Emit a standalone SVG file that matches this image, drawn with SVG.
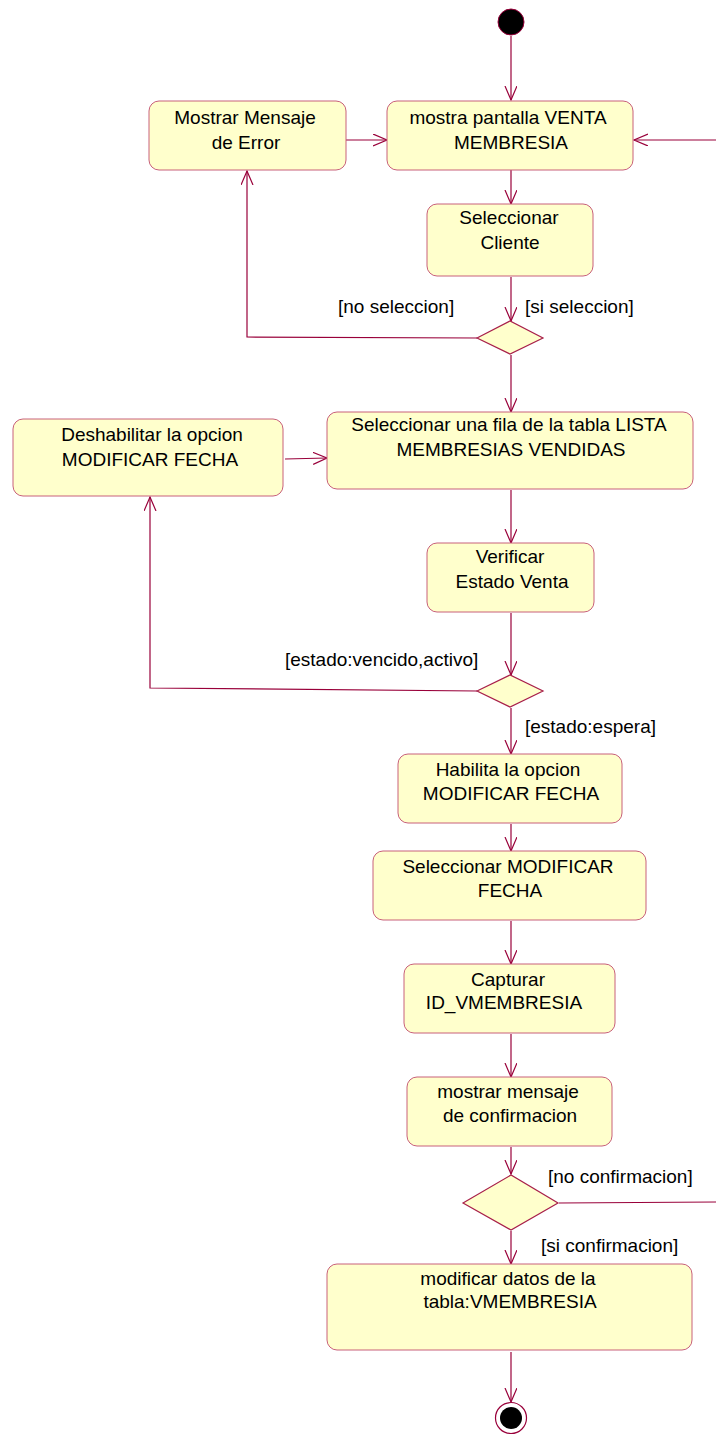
<svg xmlns="http://www.w3.org/2000/svg" width="716" height="1438" viewBox="0 0 716 1438">
<defs>
<style>
.n rect{fill:#FFFFCC;stroke:#C8607A;stroke-width:1}
.n text,.lbl{font-family:"Liberation Sans",Arial,sans-serif;font-size:19px;fill:#000}
.n text{text-anchor:middle}
.d{fill:#FFFFCC;stroke:#A8204A;stroke-width:1.2}
.c path{fill:none;stroke:#99003A;stroke-width:1.2}
.c path.a{marker-end:url(#arr)}
</style>
<marker id="arr" markerUnits="userSpaceOnUse" markerWidth="16" markerHeight="14" refX="14" refY="6" orient="auto">
<path d="M0,0 L14,6 L0,12" fill="none" stroke="#99003A" stroke-width="1.2"/>
</marker>
</defs>
<rect width="716" height="1438" fill="#fff"/>

<g id="connectors" class="c">
<path class="a" d="M511,36 L511,100"/>
<path class="a" d="M346,140 L387,140"/>
<path class="a" d="M716,140 L634,140"/>
<path class="a" d="M511,170 L511,204"/>
<path class="a" d="M511,277 L511,321"/>
<path class="a" d="M477,338 L247,337 L247,171"/>
<path class="a" d="M511,355 L511,412"/>
<path class="a" d="M285,459 L327,458"/>
<path class="a" d="M511,490 L511,543"/>
<path class="a" d="M511,613 L511,675"/>
<path class="a" d="M477,691 L150,688 L150,497"/>
<path class="a" d="M511,708 L511,754"/>
<path class="a" d="M511,824 L511,851"/>
<path class="a" d="M511,921 L511,964"/>
<path class="a" d="M511,1034 L511,1077"/>
<path class="a" d="M511,1147 L511,1174"/>
<path d="M559,1203 L716,1202"/>
<path class="a" d="M511,1231 L511,1264"/>
<path class="a" d="M511,1352 L511,1402"/>
</g>

<g id="start"><circle cx="511" cy="22" r="13" fill="#000" stroke="#99003A" stroke-width="1"/></g>

<g id="n_error" class="n"><rect x="149" y="101" width="197" height="69" rx="10"/>
<text x="245" y="124">Mostrar Mensaje</text><text x="246" y="149">de Error</text></g>

<g id="n_mostra" class="n"><rect x="387" y="101" width="246" height="69" rx="10"/>
<text x="508" y="124">mostra pantalla VENTA</text><text x="511" y="149">MEMBRESIA</text></g>

<g id="n_cliente" class="n"><rect x="427" y="204" width="166" height="72" rx="10"/>
<text x="509" y="224">Seleccionar</text><text x="510" y="249">Cliente</text></g>

<g id="dec1"><polygon class="d" points="477,338 510,321 543,338 510,354"/></g>
<text class="lbl" x="338" y="313">[no seleccion]</text>
<text class="lbl" x="525" y="313">[si seleccion]</text>

<g id="n_fila" class="n"><rect x="327" y="412" width="366" height="77" rx="10"/>
<text x="509" y="431">Seleccionar una fila de la tabla LISTA</text><text x="511" y="456">MEMBRESIAS VENDIDAS</text></g>

<g id="n_deshab" class="n"><rect x="13" y="419" width="270" height="77" rx="10"/>
<text x="152" y="441">Deshabilitar la opcion</text><text x="150" y="466">MODIFICAR FECHA</text></g>

<g id="n_verificar" class="n"><rect x="427" y="543" width="167" height="69" rx="10"/>
<text x="510" y="563">Verificar</text><text x="512" y="588">Estado Venta</text></g>

<g id="dec2"><polygon class="d" points="477,691 510,675 543,691 510,707"/></g>
<text class="lbl" x="285" y="666">[estado:vencido,activo]</text>
<text class="lbl" x="525" y="733">[estado:espera]</text>

<g id="n_habilita" class="n"><rect x="398" y="754" width="224" height="69" rx="10"/>
<text x="508" y="776">Habilita la opcion</text><text x="511" y="800">MODIFICAR FECHA</text></g>

<g id="n_selmod" class="n"><rect x="373" y="851" width="273" height="69" rx="10"/>
<text x="508" y="873">Seleccionar MODIFICAR</text><text x="510" y="897">FECHA</text></g>

<g id="n_capturar" class="n"><rect x="404" y="964" width="211" height="69" rx="10"/>
<text x="508" y="986">Capturar</text><text x="504" y="1009">ID_VMEMBRESIA</text></g>

<g id="n_confirm" class="n"><rect x="407" y="1077" width="205" height="69" rx="10"/>
<text x="508" y="1098">mostrar mensaje</text><text x="510" y="1122">de confirmacion</text></g>

<g id="dec3"><polygon class="d" points="463,1203 511,1175 558,1203 511,1230"/></g>
<text class="lbl" x="548" y="1183">[no confirmacion]</text>
<text class="lbl" x="541" y="1252">[si confirmacion]</text>

<g id="n_modificar" class="n"><rect x="327" y="1264" width="365" height="86" rx="10"/>
<text x="508" y="1285">modificar datos de la</text><text x="510" y="1308">tabla:VMEMBRESIA</text></g>

<g id="end"><circle cx="511" cy="1418" r="15.5" fill="#fff" stroke="#99003A" stroke-width="1.2"/><circle cx="511" cy="1418" r="11" fill="#000"/></g>
</svg>
